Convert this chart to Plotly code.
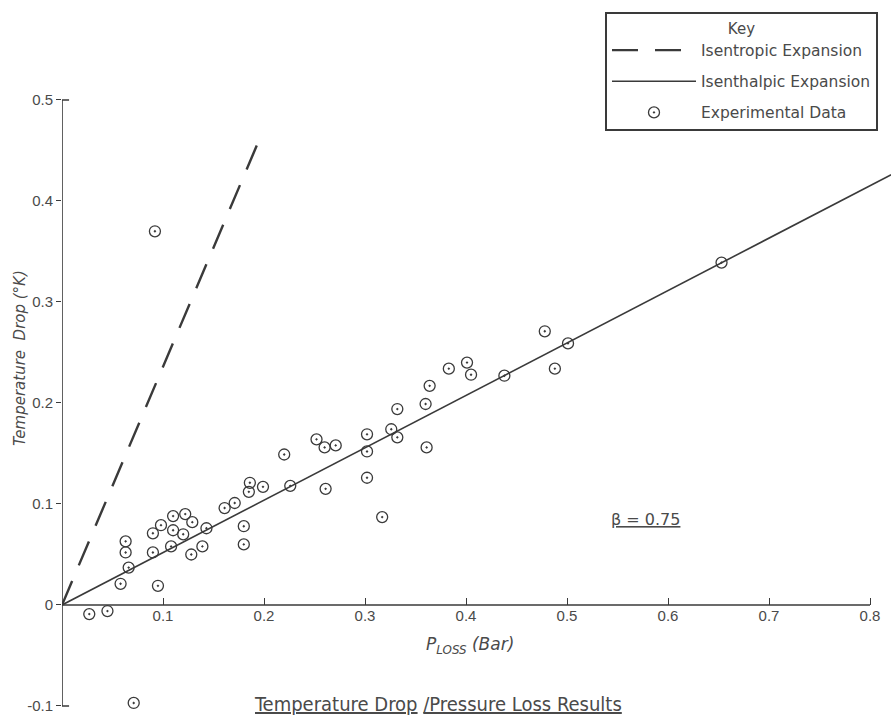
import plotly.graph_objects as go

# ---- data ----
exp_x = [0.364, 0.332, 0.360, 0.252, 0.260, 0.271, 0.302, 0.326, 0.332, 0.302,
         0.361, 0.220, 0.302, 0.186, 0.199, 0.185, 0.226, 0.261, 0.317, 0.171,
         0.161, 0.180, 0.180, 0.143, 0.139, 0.128, 0.110, 0.122, 0.129, 0.098,
         0.090, 0.110, 0.120, 0.090, 0.108, 0.063, 0.063, 0.066, 0.058, 0.095,
         0.027, 0.045, 0.401, 0.383, 0.405, 0.438, 0.488, 0.478, 0.501, 0.653,
         0.092, 0.071]
exp_y = [0.217, 0.194, 0.199, 0.164, 0.156, 0.158, 0.169, 0.174, 0.166, 0.152,
         0.156, 0.149, 0.126, 0.121, 0.117, 0.112, 0.118, 0.115, 0.087, 0.101,
         0.096, 0.078, 0.060, 0.076, 0.058, 0.050, 0.088, 0.090, 0.082, 0.079,
         0.071, 0.074, 0.070, 0.052, 0.058, 0.063, 0.052, 0.037, 0.021, 0.019,
         -0.009, -0.006, 0.240, 0.234, 0.228, 0.227, 0.234, 0.271, 0.259, 0.339,
         0.370, -0.097]

isentropic_x = [0.0, 0.195]
isentropic_y = [0.0, 0.460]
isenthalpic_x = [0.0, 0.821]
isenthalpic_y = [0.0, 0.426]

x_ticks = [0.1, 0.2, 0.3, 0.4, 0.5, 0.6, 0.7, 0.8]
x_tick_labels = ["0.1", "0.2", "0.3", "0.4", "0.5", "0.6", "0.7", "0.8"]
y_ticks = [-0.1, 0.0, 0.1, 0.2, 0.3, 0.4, 0.5]
y_tick_labels = ["-0.1", "0", "0.1", "0.2", "0.3", "0.4", "0.5"]

legend_names = ["Isentropic Expansion", "Isenthalpic Expansion", "Experimental Data"]

INK = "#3a3a3a"
TXT = "#4a4a4a"
TICKF = "Liberation Sans, Arial, sans-serif"
NARROW = "DejaVu Sans Condensed, DejaVu Sans, sans-serif"
PLOT = "DejaVu Sans, sans-serif"

fig = go.Figure()
fig.add_trace(go.Scatter(x=isentropic_x, y=isentropic_y, mode="lines",
                         name=legend_names[0], legendgroup="a",
                         line=dict(color=INK, width=2.4, dash="26px,17px")))
fig.add_trace(go.Scatter(x=isenthalpic_x, y=isenthalpic_y, mode="lines",
                         name=legend_names[1], legendgroup="b",
                         line=dict(color=INK, width=1.6)))
fig.add_trace(go.Scatter(x=exp_x, y=exp_y, mode="markers",
                         name=legend_names[2], legendgroup="c",
                         marker=dict(symbol="circle-open-dot", size=11,
                                     color=INK, line=dict(color=INK, width=1.3))))

W, H, L = 891, 724, 62
xr = [0.0, (W - L) / 1010]
yr = [0.599 - H / 1010, 0.599]
y0_paper = (0 - yr[0]) / (yr[1] - yr[0])

# axis lines (span only the tick range)
stub = 0.007
ymin, ymax = min(y_ticks), max(y_ticks)
shapes = [
    dict(type="line", xref="x", yref="y", x0=0, x1=max(x_ticks), y0=0, y1=0,
         line=dict(color=INK, width=1.6)),
    dict(type="path", xref="x", yref="y",
         path=f"M {stub},{ymax} L 0,{ymax} L 0,{ymin} L {stub},{ymin}",
         line=dict(color=INK, width=1.6)),
]

def px_x(p):
    return (p - L) / (W - L)

def px_y(p):
    return 1 - p / H

annotations = [
    dict(text="<u>Temperature Drop</u> <u>/Pressure Loss Results</u>",
         xref="paper", yref="paper", x=px_x(438), y=px_y(704),
         xanchor="center", yanchor="middle",
         showarrow=False, font=dict(family=NARROW, size=20, color=TXT)),
    dict(text="<i>P<sub>LOSS</sub> (Bar)</i>", xref="paper", yref="paper",
         x=px_x(470), y=px_y(645), xanchor="center", yanchor="middle",
         showarrow=False, font=dict(family=PLOT, size=17, color=TXT)),
    dict(text="<i>Temperature  Drop (°K)</i>", xref="paper", yref="paper",
         x=px_x(20), y=px_y(358), xanchor="center", yanchor="middle",
         textangle=-90, showarrow=False,
         font=dict(family=PLOT, size=15, color=TXT)),
    dict(text="<u>β = 0.75</u>", xref="paper", yref="paper",
         x=px_x(645), y=px_y(519), xanchor="center", yanchor="middle",
         showarrow=False, font=dict(family=PLOT, size=16, color=TXT)),
]

fig.update_layout(
    width=W, height=H, autosize=False,
    margin=dict(l=L, r=0, t=0, b=0),
    paper_bgcolor="white", plot_bgcolor="white",
    shapes=shapes, annotations=annotations,
    showlegend=True,
    legend=dict(
        x=px_x(878), y=px_y(12), xanchor="right", yanchor="top",
        bgcolor="white", bordercolor=INK, borderwidth=2,
        font=dict(family=PLOT, size=15.5, color=TXT),
        title=dict(text="Key", side="top center",
                   font=dict(family=PLOT, size=15, color=TXT)),
        itemwidth=84, traceorder="grouped", tracegroupgap=8,
    ),
    xaxis=dict(range=xr, anchor="free", position=y0_paper,
               tickvals=x_ticks, ticktext=x_tick_labels,
               ticks="inside", ticklen=7, tickwidth=1.3, tickcolor=INK,
               showline=False, showgrid=False, zeroline=False,
               tickfont=dict(family=TICKF, size=15, color=TXT)),
    yaxis=dict(range=yr, tickvals=y_ticks, ticktext=y_tick_labels,
               ticks="outside", ticklen=5, tickwidth=1.3, tickcolor=INK,
               showline=False, showgrid=False, zeroline=False,
               tickfont=dict(family=TICKF, size=15, color=TXT)),
)

fig.write_html("out.html")
